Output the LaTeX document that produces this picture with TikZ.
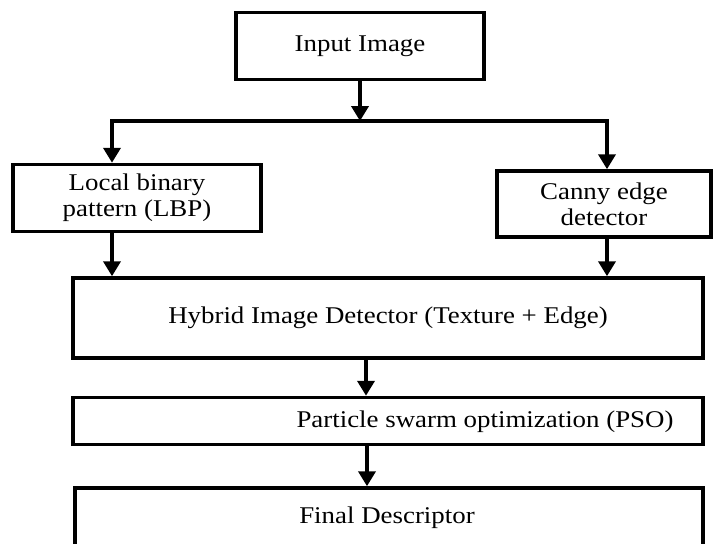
\documentclass[tikz,border=0pt]{standalone}
\usepackage{fontspec}
\setmainfont{Liberation Serif}[FakeStretch=1.12]
\usetikzlibrary{arrows.meta}
\begin{document}
\begin{tikzpicture}[x=1pt, y=-1pt,
    every node/.style={font=\fontsize{24}{26}\selectfont},
    box/.style={draw, line width=3.5pt, rectangle, inner sep=0pt, align=center},
    arr/.style={line width=4.5pt, -{Triangle[width=17pt,length=15pt]}},
    bar/.style={line width=4.5pt}]
    \useasboundingbox (0,0) rectangle (713,544);
    \clip (0,0) rectangle (713,544);

    \node[box, minimum width=248pt, minimum height=67pt] (input) at (360,46) {Input Image};
    \node[box, minimum width=248pt, minimum height=67pt] (lbp) at (137,198) {\raisebox{-4pt}{\begin{tabular}{@{}c@{}}Local binary\\pattern (LBP)\end{tabular}}};
    \node[box, minimum width=214pt, minimum height=66pt] (canny) at (604,204) {Canny edge\\detector};
    \node[box, minimum width=630pt, minimum height=80pt] (hybrid) at (388,318) {Hybrid Image Detector (Texture + Edge)};
    \node[box, minimum width=630pt, minimum height=47pt] (pso) at (388,421) {};
    \node (psotext) at (485,422) {Particle swarm optimization (PSO)};
    \node[box, minimum width=628pt, minimum height=64pt] (final) at (389,520) {};
    \node (finaltext) at (387,518) {Final Descriptor};

    \coordinate (split) at (360,121);
    \coordinate (splitL) at (112,121);
    \coordinate (splitR) at (607,121);

    \draw[arr] (input.south) -- (split);
    \draw[bar] ([xshift=-2pt]splitL) -- ([xshift=2pt]splitR);
    \draw[arr] (splitL) -- (lbp.north -| splitL);
    \draw[arr] (splitR) -- (canny.north -| splitR);
    \draw[arr] (lbp.south -| splitL) -- (hybrid.north -| splitL);
    \draw[arr] (canny.south -| splitR) -- (hybrid.north -| splitR);
    \draw[arr] ([xshift=-22pt]hybrid.south) -- ([xshift=-22pt]pso.north);
    \draw[arr] ([xshift=-21pt]pso.south) -- ([xshift=-22pt]final.north);
\end{tikzpicture}
\end{document}
